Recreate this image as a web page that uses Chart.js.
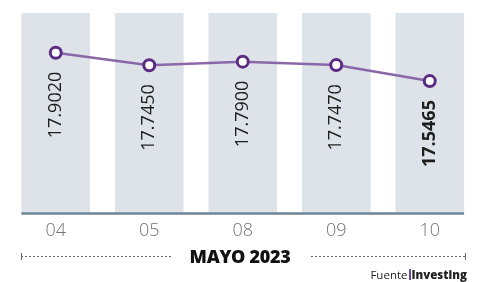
<!DOCTYPE html>
<html>
<head>
<meta charset="utf-8">
<script src="https://cdn.jsdelivr.net/npm/chart.js@4"></script>
<style>
  html, body { margin: 0; padding: 0; background: #fff; }
  #wrap { position: relative; width: 485px; height: 282px; overflow: hidden; font-family: "Open Sans", sans-serif; }
  #c { position: absolute; left: 0; top: 0; }
  .dots { position: absolute; height: 1px; top: 256px;
    background: repeating-linear-gradient(90deg, #666 0 2px, transparent 2px 4px); }
  .tick { position: absolute; width: 1px; height: 7px; top: 253px; background: #666; }
  #mayo { position: absolute; left: 170px; width: 140px; top: 244px; text-align: center;
    font-weight: 800; font-size: 18px; color: #111; letter-spacing: -0.3px; line-height: 24px; }
  #fuente { position: absolute; right: 18px; top: 268px; font-size: 11.5px; color: #222; line-height: 14px; }
  #fuente b { font-weight: 800; }
  #fuente .bar { display: inline-block; width: 2px; height: 11px; background: #6a4a9a; vertical-align: -1px; margin: 0 1px; }
</style>
</head>
<body>
<div id="wrap">
  <canvas id="c" width="485" height="282"></canvas>
  <div class="tick" style="left:21px"></div>
  <div class="dots" style="left:21px; width:150px"></div>
  <div id="mayo">MAYO 2023</div>
  <div class="dots" style="left:311px; width:154px"></div>
  <div class="tick" style="left:465px"></div>
  <div id="fuente">Fuente<span class="bar"></span><b>Investing</b></div>
</div>
<script>
const categories = ["04", "05", "08", "09", "10"];
const values = [17.9020, 17.7450, 17.7900, 17.7470, 17.5465];
const valueLabels = ["17.9020", "17.7450", "17.7900", "17.7470", "17.5465"];
const boldIndex = [4];

const columnsPlugin = {
  id: 'columns',
  beforeDatasetsDraw(chart) {
    const { ctx, chartArea, scales: { x } } = chart;
    const step = x.getPixelForValue(1) - x.getPixelForValue(0);
    const w = step * 0.735;
    ctx.save();
    ctx.fillStyle = '#dde3e8';
    categories.forEach((c, i) => {
      const cx = x.getPixelForValue(i);
      ctx.fillRect(cx - w / 2, chartArea.top, w, chartArea.bottom - chartArea.top);
    });
    const left = x.getPixelForValue(0) - w / 2;
    const right = x.getPixelForValue(categories.length - 1) + w / 2;
    ctx.strokeStyle = '#6e8494';
    ctx.lineWidth = 2.5;
    ctx.beginPath();
    ctx.moveTo(left, chartArea.bottom + 1);
    ctx.lineTo(right, chartArea.bottom + 1);
    ctx.stroke();
    ctx.restore();
  },
  afterDatasetsDraw(chart) {
    const { ctx } = chart;
    const meta = chart.getDatasetMeta(0);
    ctx.save();
    ctx.fillStyle = '#1e1e1e';
    ctx.textAlign = 'right';
    ctx.textBaseline = 'middle';
    meta.data.forEach((pt, i) => {
      ctx.save();
      ctx.translate(pt.x, pt.y + 19);
      ctx.rotate(-Math.PI / 2);
      ctx.font = (boldIndex.includes(i) ? '700 ' : '400 ') + '18px "Open Sans"';
      ctx.fillText(valueLabels[i], 0, 0);
      ctx.restore();
    });
    ctx.restore();
  }
};

new Chart(document.getElementById('c'), {
  type: 'line',
  data: {
    labels: categories,
    datasets: [{
      data: values,
      borderColor: '#8a68a8',
      borderWidth: 2.5,
      pointRadius: 5.5,
      pointBorderWidth: 3,
      pointBorderColor: '#5b2c83',
      pointBackgroundColor: '#ffffff',
      tension: 0
    }]
  },
  options: {
    responsive: false,
    animation: false,
    devicePixelRatio: 1,
    layout: { padding: { left: 9, right: 6, top: 13, bottom: 32 } },
    plugins: { legend: { display: false }, tooltip: { enabled: false } },
    scales: {
      x: {
        offset: true,
        grid: { display: false, drawTicks: false },
        border: { display: false },
        ticks: { color: '#747474', padding: 8, font: { family: 'Open Sans', size: 18, weight: 300 } }
      },
      y: {
        display: false,
        min: 15.9,
        max: 18.4
      }
    }
  },
  plugins: [columnsPlugin]
});
</script>
</body>
</html>
